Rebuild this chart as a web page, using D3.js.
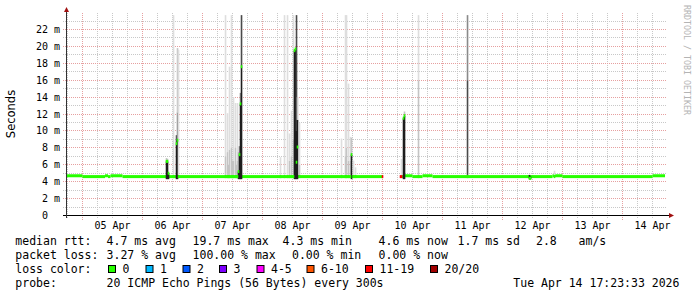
<!DOCTYPE html>
<html>
<head>
<meta charset="utf-8">
<script src="https://cdn.jsdelivr.net/npm/d3@7"></script>
<style>
  body { margin: 0; background: #fff; }
  svg { display: block; }
  text { font-family: "DejaVu Sans Mono", monospace; white-space: pre; }
</style>
</head>
<body>
<svg id="chart" width="697" height="297"></svg>
<script>
// ---- data ----
const startTime = "2026-04-04T17:23:33Z";
const endTime = "2026-04-14T17:23:33Z";
const yMaxMs = 23.95;

// median rtt runs on the quiet baseline: [from, to, ms]
const medianRuns = [
  ["2026-04-04T17:23Z", "2026-04-05T00:00Z", 4.7],
  ["2026-04-05T00:00Z", "2026-04-05T09:00Z", 4.6],
  ["2026-04-05T09:00Z", "2026-04-05T10:12Z", 4.7],
  ["2026-04-05T10:12Z", "2026-04-05T11:12Z", 4.6],
  ["2026-04-05T11:12Z", "2026-04-05T16:00Z", 4.7],
  ["2026-04-05T16:00Z", "2026-04-10T00:12Z", 4.6],
  // no data from 00:12 to 07:48 on 10 Apr
  ["2026-04-10T07:48Z", "2026-04-10T09:00Z", 4.6],
  ["2026-04-10T09:00Z", "2026-04-10T12:00Z", 4.7],
  ["2026-04-10T12:00Z", "2026-04-10T16:00Z", 4.6],
  ["2026-04-10T16:00Z", "2026-04-10T20:00Z", 4.7],
  ["2026-04-10T20:00Z", "2026-04-12T20:00Z", 4.6],
  ["2026-04-12T20:00Z", "2026-04-13T00:00Z", 4.7],
  ["2026-04-13T00:00Z", "2026-04-14T12:00Z", 4.6],
  ["2026-04-14T12:00Z", "2026-04-14T17:00Z", 4.7]
];

// busy columns: [time, median ms, lost pings, smoke bottom ms, [[smoke top ms, density 0..4], ...]]
const spikes = [
  ["2026-04-06T09:24Z", 6.4, 0, 4.3, [[6.4, 4], [6.8, 1]]],
  ["2026-04-06T09:48Z", 6.4, 0, 4.3, [[6.4, 4], [6.7, 1]]],
  ["2026-04-06T10:12Z", 5.0, 0, 4.3, [[5.0, 4]]],
  ["2026-04-06T12:12Z", 4.6, 0, 4.8, [[23.7, 0]]],
  ["2026-04-06T13:24Z", 8.5, 0, 4.3, [[8.5, 4], [9.5, 3]]],
  ["2026-04-06T13:48Z", 8.9, 0, 4.3, [[8.9, 4], [12.2, 2], [19.8, 1]]],
  ["2026-04-06T14:12Z", 4.6, 0, 4.8, [[19.6, 0]]],
  ["2026-04-07T09:00Z", 4.6, 0, 4.8, [[7.0, 1], [23.7, 0]]],
  ["2026-04-07T09:48Z", 4.6, 0, 4.8, [[7.5, 1], [12.1, 0]]],
  ["2026-04-07T10:12Z", 4.6, 0, 4.8, [[6.0, 1]]],
  ["2026-04-07T10:36Z", 4.6, 0, 4.8, [[7.8, 1], [17.6, 0]]],
  ["2026-04-07T11:24Z", 4.6, 0, 4.8, [[8.0, 1], [23.7, 0]]],
  ["2026-04-07T11:48Z", 4.6, 0, 4.8, [[6.5, 1]]],
  ["2026-04-07T12:12Z", 4.6, 0, 4.8, [[6.5, 1], [14.0, 0]]],
  ["2026-04-07T13:00Z", 4.6, 0, 4.8, [[8.0, 1], [13.3, 0]]],
  ["2026-04-07T13:24Z", 4.6, 0, 4.8, [[6.0, 1]]],
  ["2026-04-07T13:48Z", 4.6, 0, 4.8, [[6.5, 1], [13.3, 0]]],
  ["2026-04-07T14:12Z", 5.2, 0, 4.3, [[5.2, 4], [7.5, 1]]],
  ["2026-04-07T14:36Z", 7.2, 0, 4.3, [[7.2, 4], [8.2, 2]]],
  ["2026-04-07T15:00Z", 13.2, 0, 4.3, [[13.2, 4], [14.5, 2]]],
  ["2026-04-07T15:24Z", 17.6, 0, 4.3, [[17.6, 4], [23.7, 3]]],
  ["2026-04-08T07:00Z", 4.6, 0, 4.8, [[6.9, 0]]],
  ["2026-04-08T08:36Z", 4.6, 0, 4.8, [[23.7, 0]]],
  ["2026-04-08T09:48Z", 4.6, 0, 4.8, [[23.7, 0]]],
  ["2026-04-08T10:36Z", 4.6, 0, 4.8, [[6.5, 1], [9.7, 0]]],
  ["2026-04-08T11:24Z", 4.6, 0, 4.8, [[7.0, 1], [12.4, 0]]],
  ["2026-04-08T12:12Z", 4.6, 0, 4.8, [[9.0, 1], [23.7, 0]]],
  ["2026-04-08T12:36Z", 19.5, 0, 4.3, [[19.5, 4]]],
  ["2026-04-08T13:00Z", 19.7, 0, 4.3, [[19.7, 4]]],
  ["2026-04-08T13:24Z", 6.3, 0, 4.3, [[10.0, 4], [23.7, 3]]],
  ["2026-04-08T13:48Z", 8.1, 0, 4.3, [[11.3, 4], [14.0, 1]]],
  ["2026-04-08T14:36Z", 4.6, 0, 4.8, [[6.0, 1], [11.0, 0]]],
  ["2026-04-09T07:24Z", 4.6, 0, 4.8, [[9.1, 0]]],
  ["2026-04-09T09:00Z", 4.6, 0, 4.8, [[7.0, 1], [23.7, 0]]],
  ["2026-04-09T09:24Z", 4.6, 0, 4.8, [[8.0, 1], [23.7, 0]]],
  ["2026-04-09T10:12Z", 4.6, 0, 4.8, [[6.5, 1], [15.6, 0]]],
  ["2026-04-09T11:00Z", 4.6, 0, 4.8, [[6.5, 1], [9.3, 0]]],
  ["2026-04-09T11:24Z", 7.2, 0, 4.3, [[7.2, 4], [9.2, 1]]],
  ["2026-04-09T12:12Z", 4.6, 0, 4.8, [[6.5, 0]]],
  ["2026-04-09T13:00Z", 4.6, 0, 4.8, [[5.7, 0]]],
  ["2026-04-09T23:48Z", 4.6, 15, 4.8, []],
  ["2026-04-10T07:00Z", 4.6, 15, 4.8, []],
  ["2026-04-10T07:24Z", 4.6, 15, 4.8, [[6.7, 0]]],
  ["2026-04-10T08:12Z", 11.5, 0, 4.3, [[11.5, 4]]],
  ["2026-04-10T08:36Z", 11.8, 0, 4.3, [[11.8, 4], [12.3, 1]]],
  ["2026-04-10T14:12Z", 4.6, 0, 4.8, [[16.0, 1], [23.7, 0]]],
  ["2026-04-11T09:48Z", 4.6, 0, 4.8, [[16.0, 3], [23.7, 2]]],
  ["2026-04-12T10:36Z", 4.4, 0, 4.3, [[4.8, 4]]],
  ["2026-04-12T11:00Z", 4.4, 0, 4.3, [[4.6, 4]]],
  ["2026-04-12T20:36Z", 4.6, 0, 4.8, [[5.3, 0]]]
];

const lossLabels = ["0", "1", "2", "3", "4-5", "6-10", "11-19", "20/20"];
const lossColors = ["#26ff00", "#00b8ff", "#0059ff", "#7e00ff", "#ff00ff", "#ff5500", "#ff0000", "#a10000"];
const rttLine = ["median rtt:", "4.7 ms avg", "19.7 ms max", "4.3 ms min", "4.6 ms now", "1.7 ms sd", "2.8", "am/s"];
const lossLine = ["packet loss:", "3.27 % avg", "100.00 % max", "0.00 % min", "0.00 % now"];
const probeLine = ["probe:", "20 ICMP Echo Pings (56 Bytes) every 300s", "Tue Apr 14 17:23:33 2026"];

// ---- drawing ----
const svg = d3.select("#chart");
const x = d3.scaleUtc().domain([new Date(startTime), new Date(endTime)]).range([66, 666]);
const y = d3.scaleLinear().domain([0, yMaxMs]).range([215.5, 13]);
const lossColor = d3.scaleThreshold().domain([1, 2, 3, 4, 6, 11, 20]).range(lossColors);
const snap = v => Math.floor(v) + 0.5;
const smokeShade = ["#dedede", "#c4c4c4", "#8a8a8a", "#4a4a4a", "#1e1e1e"];
const colW = 1.6;

const minorGrid = "#c8c8c8", majorGrid = "#e6a0a0";

// grid
const grid = svg.append("g").attr("fill", "none").attr("stroke-dasharray", "1,1");
const dayTicks = x.ticks(d3.utcDay.every(1));
const sixTicks = x.ticks(d3.utcHour.every(6)).filter(t => t.getUTCHours() !== 0);

grid.selectAll(".vmin").data(sixTicks).join("line")
  .attr("x1", d => snap(x(d))).attr("x2", d => snap(x(d)))
  .attr("y1", 13).attr("y2", 218).attr("stroke", minorGrid);
grid.selectAll(".vmaj").data(dayTicks).join("line")
  .attr("x1", d => snap(x(d))).attr("x2", d => snap(x(d)))
  .attr("y1", 13).attr("y2", 220).attr("stroke", majorGrid);

const yGrid = y.ticks(24).filter(v => v > 0 && v < yMaxMs);
grid.selectAll(".h").data(yGrid).join("line")
  .attr("x1", 63).attr("x2", 666)
  .attr("y1", d => snap(y(d))).attr("y2", d => snap(y(d)))
  .attr("stroke", d => d % 2 === 0 ? majorGrid : minorGrid);

// baseline median band
svg.append("g").selectAll("rect").data(medianRuns).join("rect")
  .attr("x", d => x(new Date(d[0])))
  .attr("width", d => x(new Date(d[1])) - x(new Date(d[0])))
  .attr("y", d => y(d[2]) - 1.5).attr("height", 3)
  .attr("fill", lossColor(0));

// smoke
const smoke = svg.append("g");
spikes.forEach(([t, med, loss, low, layers]) => {
  const x0 = x(new Date(t)) - (colW - 1) / 2;
  let prev = low;
  layers.forEach(([top, dens]) => {
    smoke.append("rect")
      .attr("x", x0).attr("width", colW)
      .attr("y", y(top)).attr("height", y(prev) - y(top))
      .attr("fill", smokeShade[dens]);
    prev = top;
  });
});

// medians of the busy columns, coloured by loss
svg.append("g").selectAll("rect").data(spikes).join("rect")
  .attr("x", d => x(new Date(d[0])) - (colW - 1) / 2).attr("width", colW)
  .attr("y", d => y(d[1]) - 1.5).attr("height", 3)
  .attr("fill", d => lossColor(d[2]));

// axes
const axis = svg.append("g");
axis.append("line").attr("x1", 63).attr("x2", 670).attr("y1", 215.5).attr("y2", 215.5).attr("stroke", "#000");
axis.append("line").attr("x1", 66.5).attr("x2", 66.5).attr("y1", 218).attr("y2", 11).attr("stroke", "#333");
axis.append("path").attr("d", "M669,213 L674,215.5 L669,218 Z").attr("fill", "#a01010");
axis.append("path").attr("d", "M64,12 L66.5,7 L69,12 Z").attr("fill", "#a01010");

// y tick labels
svg.append("g").attr("font-size", "10px").attr("text-anchor", "end")
  .selectAll("text").data(y.ticks(12).filter(v => v < yMaxMs)).join("text")
  .attr("x", 60).attr("y", d => snap(y(d)) + 3.6)
  .text(d => d === 0 ? "0  " : d + " m");

// x tick labels at midday
const noonTicks = dayTicks.map(d => d3.utcHour.offset(d, 12)).filter(d => d < x.domain()[1]);
svg.append("g").attr("font-size", "10px").attr("text-anchor", "middle")
  .selectAll("text").data(noonTicks).join("text")
  .attr("x", d => x(d)).attr("y", 228.5)
  .text(d3.utcFormat("%d %b"));

// axis title
svg.append("text").attr("transform", "translate(15,114) rotate(-90)")
  .attr("text-anchor", "middle").style("font-family", "'DejaVu Sans', sans-serif")
  .attr("font-size", "11.5px").text("Seconds");

// watermark
svg.append("text").attr("transform", "translate(684,5) rotate(90)")
  .attr("font-size", "8.3px").attr("fill", "#b4b4b4").text("RRDTOOL / TOBI OETIKER");

// legend
const legend = svg.append("g").attr("font-size", "11.5px").attr("fill", "#000");
const rttX = [15.3, 106.6, 192.6, 282.6, 378.6, 457.6, 536, 578.6];
rttLine.forEach((s, i) => legend.append("text").attr("x", rttX[i]).attr("y", 245).text(s));
const lossX = [15.3, 106.6, 192.6, 292, 378.6];
lossLine.forEach((s, i) => legend.append("text").attr("x", lossX[i]).attr("y", 259).text(s));
legend.append("text").attr("x", 15.3).attr("y", 273).text("loss color:");
const boxX = [108, 145.5, 182.5, 219, 256.5, 306.5, 365, 430];
lossLabels.forEach((s, i) => {
  legend.append("rect").attr("x", boxX[i] + 0.5).attr("y", 265.5).attr("width", 7).attr("height", 7)
    .attr("fill", lossColors[i]).attr("stroke", "#000");
  legend.append("text").attr("x", boxX[i] + 14.5).attr("y", 273).text(s);
});
const probeX = [15.3, 106.6, 513.3];
probeLine.forEach((s, i) => legend.append("text").attr("x", probeX[i]).attr("y", 287).text(s));
</script>
</body>
</html>
